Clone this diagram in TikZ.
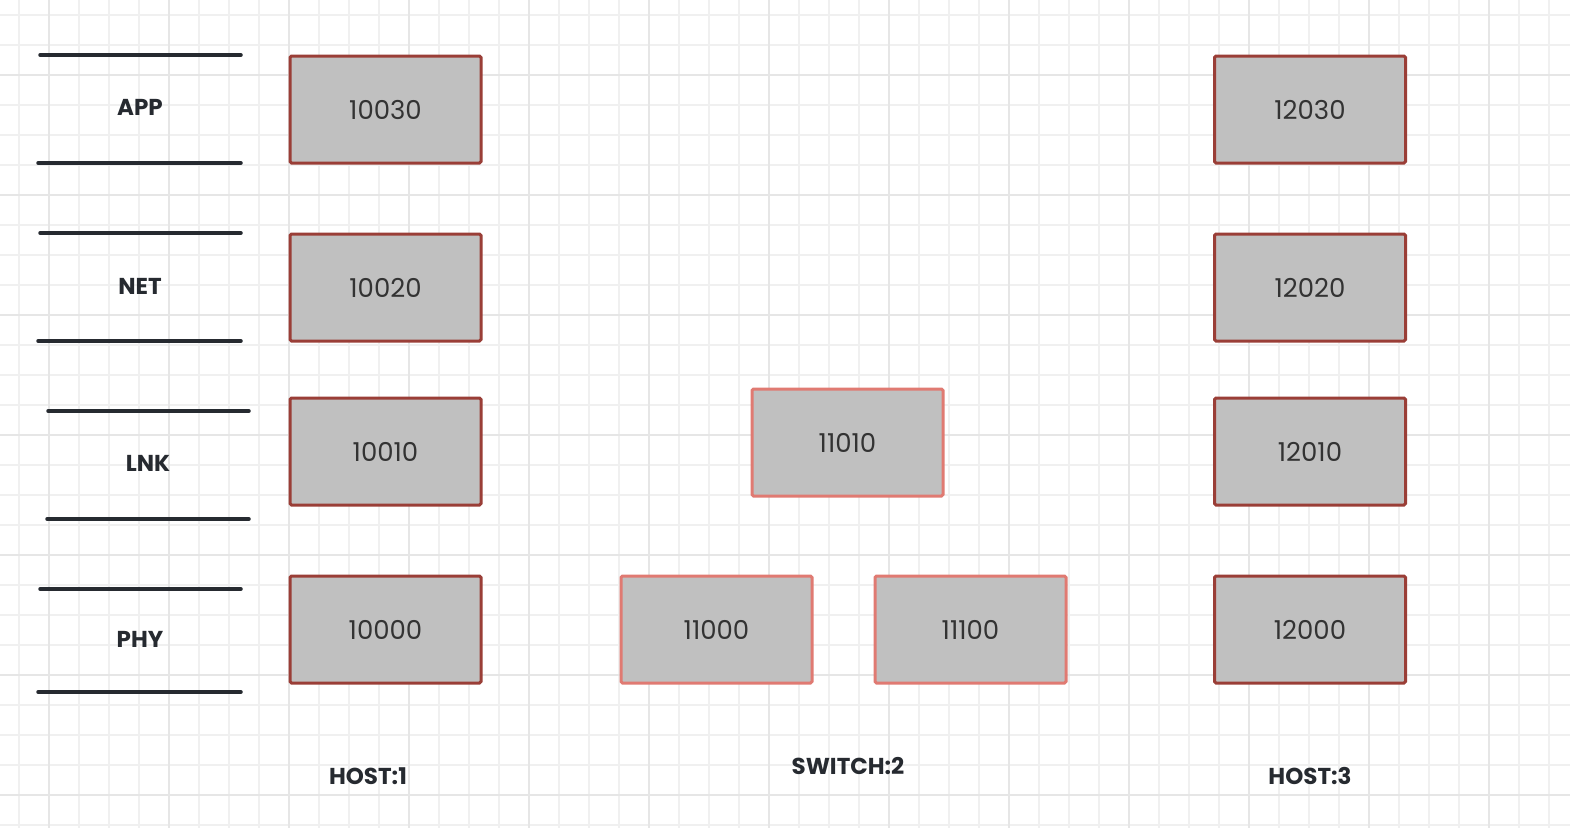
\documentclass[tikz,border=0pt]{standalone}
\usepackage{fontspec}
\setmainfont{Poppins}
\definecolor{gridminor}{HTML}{F0F0F0}
\definecolor{gridmajor}{HTML}{E6E6E6}
\definecolor{hostborder}{HTML}{9A3E37}
\definecolor{swborder}{HTML}{E07A72}
\definecolor{boxfill}{HTML}{C0C0C0}
\definecolor{ink}{HTML}{262A30}
\definecolor{numtext}{HTML}{333333}
\tikzset{
  hostbox/.style={draw=hostborder, line width=3pt, fill=boxfill, rounded corners=1.5pt,
    minimum width=191pt, minimum height=107pt, inner sep=0pt, text=numtext,
    font=\fontsize{26}{26}\selectfont},
  swbox/.style={hostbox, draw=swborder},
  layerline/.style={draw=ink, line width=3.5pt, line cap=round},
  layerlabel/.style={text=ink, font=\bfseries\fontsize{23}{23}\selectfont, inner sep=0pt},
}
\begin{document}
\begin{tikzpicture}[x=1pt,y=-1pt]
\useasboundingbox (0,0) rectangle (1570,828);
\fill[white] (0,0) rectangle (1570,828);
% grid
\foreach \x in {19,49,...,1570} \draw[gridminor, line width=1.2pt] (\x,0) -- (\x,828);
\foreach \y in {15,45,...,828} \draw[gridminor, line width=1.2pt] (0,\y) -- (1570,\y);
\foreach \x in {49,169,...,1570} \draw[gridmajor, line width=2pt] (\x,0) -- (\x,828);
\foreach \y in {75,195,...,828} \draw[gridmajor, line width=2pt] (0,\y) -- (1570,\y);
% layer lines
\coordinate (a1) at (40,55);  \coordinate (a2) at (241,55);
\coordinate (a3) at (38,163); \coordinate (a4) at (241,163);
\coordinate (n1) at (40,233); \coordinate (n2) at (241,233);
\coordinate (n3) at (38,341); \coordinate (n4) at (241,341);
\coordinate (l1) at (48,411); \coordinate (l2) at (249,411);
\coordinate (l3) at (47,519); \coordinate (l4) at (249,519);
\coordinate (p1) at (40,589); \coordinate (p2) at (241,589);
\coordinate (p3) at (38,692); \coordinate (p4) at (241,692);
\draw[layerline] (a1) -- (a2); \draw[layerline] (a3) -- (a4);
\draw[layerline] (n1) -- (n2); \draw[layerline] (n3) -- (n4);
\draw[layerline] (l1) -- (l2); \draw[layerline] (l3) -- (l4);
\draw[layerline] (p1) -- (p2); \draw[layerline] (p3) -- (p4);
\node[layerlabel] (app) at (140,107) {APP};
\node[layerlabel] (net) at (140,286) {NET};
\node[layerlabel] (lnk) at (148,463) {LNK};
\node[layerlabel] (phy) at (140,639) {PHY};
% host 1
\node[hostbox] (h1a) at (385.5,109.5) {10030};
\node[hostbox] (h1n) at (385.5,287.5) {10020};
\node[hostbox] (h1l) at (385.5,451.5) {10010};
\node[hostbox] (h1p) at (385.5,629.5) {10000};
% switch
\node[swbox] (s1) at (847.5,442.5) {11010};
\node[swbox] (s2) at (716.5,629.5) {11000};
\node[swbox] (s3) at (970.5,629.5) {11100};
% host 3
\node[hostbox] (h3a) at (1310,109.5) {12030};
\node[hostbox] (h3n) at (1310,287.5) {12020};
\node[hostbox] (h3l) at (1310,451.5) {12010};
\node[hostbox] (h3p) at (1310,629.5) {12000};
% labels
\node[layerlabel] (host1) at (368,776) {HOST:1};
\node[layerlabel] (switch2) at (848,766) {SWITCH:2};
\node[layerlabel] (host3) at (1310,776) {HOST:3};
\end{tikzpicture}
\end{document}
